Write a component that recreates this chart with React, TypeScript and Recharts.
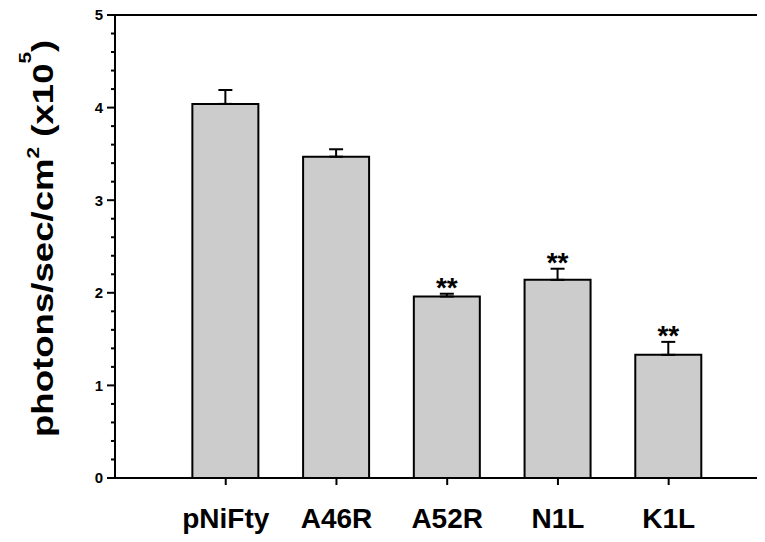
import React from 'react';
import { BarChart, Bar, XAxis, YAxis, ErrorBar, ReferenceLine } from 'recharts';

const categories = ['pNiFty', 'A46R', 'A52R', 'N1L', 'K1L'];
const values = [4.04, 3.47, 1.96, 2.14, 1.33];
const errors = [0.15, 0.08, 0.03, 0.12, 0.14];
const marks = ['', '', '**', '**', '**'];
const xTicks = [1, 2, 3, 4, 5];
const yTicks = [0, 0.2, 0.4, 0.6, 0.8, 1, 1.2, 1.4, 1.6, 1.8, 2, 2.2, 2.4, 2.6, 2.8, 3, 3.2, 3.4, 3.6, 3.8, 4, 4.2, 4.4, 4.6, 4.8, 5];

const data = categories.map((name, i) => ({
    pos: i + 1,
    name,
    value: values[i],
    err: [0, errors[i]],
    mark: marks[i],
}));

const FONT = '"Liberation Sans", Arial, sans-serif';

function YTick(props: any) {
    const { x, y, payload } = props;
    const v = payload.value;
    const major = Math.abs(v - Math.round(v)) < 1e-6;
    return (
        <g>
            <line x1={x - (major ? 8 : 4)} y1={y} x2={x} y2={y} stroke="#000" strokeWidth={2} />
            {major && (
                <text x={x - 12} y={y} dy="0.36em" textAnchor="end" fontFamily={FONT} fontWeight="bold" fontSize={15} fill="#000">
                    {v}
                </text>
            )}
        </g>
    );
}

function StarLabel(props: any) {
    const { x, y, width, height, value, index } = props;
    const mark = marks[index];
    if (!mark) return null;
    const perUnit = height / value;
    const capY = y - errors[index] * perUnit;
    return (
        <text x={x + width / 2} y={capY + 3} textAnchor="middle" fontFamily={FONT} fontWeight="bold" fontSize={28} fill="#000">
            {mark}
        </text>
    );
}

// axis title, stretched along its length like the original figure
function YLabel() {
    return (
        <text transform="translate(45, 429) rotate(-90) scale(1.22, 1)" fontFamily={FONT} fontWeight="bold" fontSize={30} fill="#000">
            <tspan>photons/sec/cm</tspan>
            <tspan fontSize={17} dy={-14}>2</tspan>
            <tspan dy={14}>{'\u00a0(x10'}</tspan>
            <tspan fontSize={17} dy={-22}>5</tspan>
            <tspan dy={22}>)</tspan>
        </text>
    );
}

export default function App() {
    return (
        <div style={{ width: 757, height: 534, background: '#fff' }}>
            <style>{'.recharts-surface { overflow: visible; }'}</style>
            <BarChart width={757} height={534} data={data} margin={{ top: 7, right: 0, left: 0, bottom: 4 }}>
                <XAxis
                    dataKey="pos"
                    type="number"
                    domain={[0, 5.87]}
                    ticks={xTicks}
                    allowDecimals
                    tickFormatter={(v: number) => categories[v - 1] ?? ''}
                    axisLine={{ stroke: '#000', strokeWidth: 2 }}
                    tickLine={{ stroke: '#000', strokeWidth: 2 }}
                    tickSize={7}
                    tickMargin={23}
                    height={60}
                    tick={{ fill: '#000', fontFamily: FONT, fontWeight: 'bold', fontSize: 28 }}
                />
                <YAxis
                    type="number"
                    domain={[0, 5]}
                    ticks={yTicks}
                    width={107}
                    interval={0}
                    axisLine={{ stroke: '#000', strokeWidth: 2 }}
                    tickLine={false}
                    tickSize={0}
                    tickMargin={0}
                    tick={(p: any) => <YTick {...p} />}
                    label={<YLabel />}
                />
                <ReferenceLine y={5} stroke="#000" strokeWidth={2} />
                <Bar
                    dataKey="value"
                    barSize={66}
                    fill="#cccccc"
                    stroke="#000"
                    strokeWidth={2}
                    isAnimationActive={false}
                    label={(p: any) => <StarLabel {...p} />}
                >
                    <ErrorBar dataKey="err" direction="y" width={7} stroke="#000" strokeWidth={2} />
                </Bar>
            </BarChart>
        </div>
    );
}
